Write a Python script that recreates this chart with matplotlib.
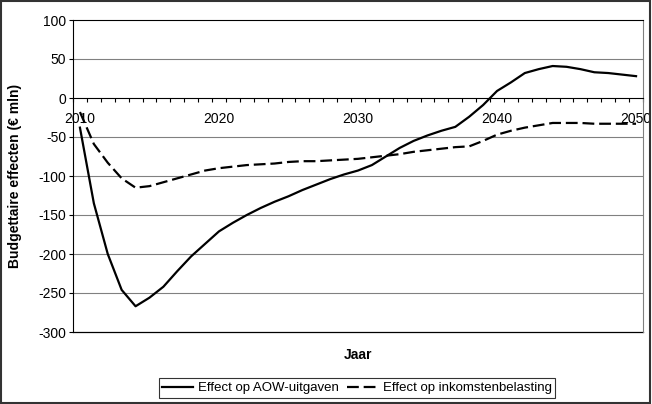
import matplotlib
matplotlib.use('Agg')
import matplotlib.pyplot as plt
from matplotlib.patches import Rectangle

plt.rcParams['font.family'] = ['Liberation Sans', 'DejaVu Sans']
plt.rcParams['lines.scale_dashes'] = False
plt.rcParams['axes.unicode_minus'] = False

years = list(range(2010, 2051))
aow = [-38, -135, -200, -246, -267, -256, -242, -222, -203, -187,
       -171, -160, -150, -141, -133, -126, -118, -111, -104, -98,
       -93, -86, -75, -64, -55, -48, -42, -37, -24, -9,
       9, 20, 32, 37, 41, 40, 37, 33, 32, 30, 28]
ib = [-18, -59, -83, -103, -115, -113, -108, -103, -98, -93,
      -90, -88, -86, -85, -84, -82, -81, -81, -80, -79,
      -78, -76, -74, -72, -69, -67, -65, -63, -62, -55,
      -47, -42, -38, -35, -32, -32, -32, -33, -33, -33, -33]
yticks = [-300, -250, -200, -150, -100, -50, 0, 50, 100]
xlabels = [2010, 2020, 2030, 2040, 2050]

fig = plt.figure(figsize=(6.52, 4.04), dpi=100)
ax = fig.add_axes([73/652, 1-332/404, 570/652, 312/404])

# horizontal grid, gray
for v in yticks[1:-1]:
    if v != 0:
        ax.axhline(v, color='#808080', lw=0.8, zorder=1)

l1, = ax.plot(years, aow, color='black', lw=1.6, label='Effect op AOW-uitgaven', zorder=3)
l2, = ax.plot(years, ib, color='black', lw=1.6, dashes=(8.5, 3.5),
              label='Effect op inkomstenbelasting', zorder=3)

ax.set_xlim(2009.5, 2050.5)
ax.set_ylim(-300, 100)
ax.set_yticks(yticks)
ax.set_xticks(xlabels)
ax.set_xticklabels([str(x) for x in xlabels])
ax.set_xticks([2009.5 + k for k in range(42)], minor=True)

# category axis crosses at 0
ax.spines['bottom'].set_position(('data', 0))
ax.spines['bottom'].set_linewidth(0.8)
ax.spines['left'].set_linewidth(0.8)
ax.spines['top'].set_linewidth(0.8)
ax.spines['right'].set_color('#808080')
ax.spines['right'].set_linewidth(0.8)
ax.axhline(-300, color='black', lw=0.9, clip_on=False, zorder=2)

ax.tick_params(axis='x', which='major', length=0, pad=10, labelsize=10)
ax.tick_params(axis='x', which='minor', length=3, width=0.8, direction='out')
ax.tick_params(axis='y', length=3, width=0.8, pad=2, labelsize=10)

ax.set_ylabel('Budgettaire effecten (€ mln)', fontsize=10, fontweight='bold')
ax.yaxis.set_label_coords(-0.09, 0.5)
fig.text(358/652, 1-355/404, 'Jaar', ha='center', va='center', fontsize=10, fontweight='bold')

leg = fig.legend(handles=[l1, l2], loc='center', bbox_to_anchor=(357/652, 1-388/404),
                 ncol=2, fontsize=9.5, frameon=True, fancybox=False, edgecolor='black',
                 handlelength=2.3, handletextpad=0.4, columnspacing=0.6,
                 borderpad=0.3, borderaxespad=0)
leg.get_frame().set_linewidth(0.8)

fig.patches.append(Rectangle((0.001, 0.002), 0.996, 0.996, transform=fig.transFigure,
                             fill=False, edgecolor='#333333', lw=1.5))

fig.savefig('out.png', dpi=100)
